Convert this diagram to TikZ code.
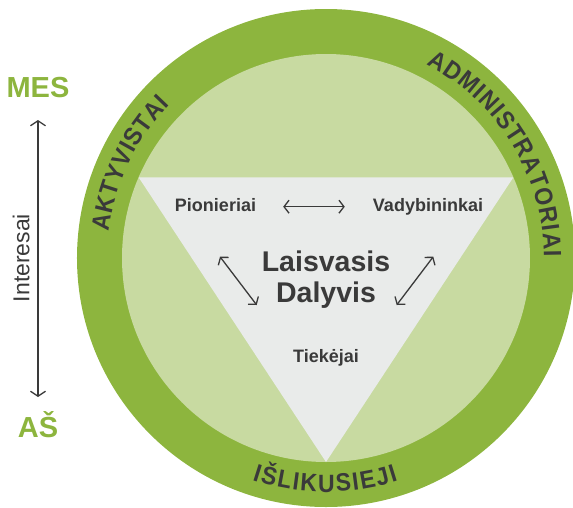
\documentclass[tikz,border=0pt]{standalone}
\usepackage{fontspec}
\setmainfont{Liberation Sans}
\newfontfamily\ringfam{Liberation Sans}[FakeStretch=0.92]
\usepackage{tikz}
\usetikzlibrary{arrows.meta}
\usetikzlibrary{decorations.text}

\definecolor{ringgreen}{RGB}{141,181,62}
\definecolor{innergreen}{RGB}{200,218,161}
\definecolor{trigray}{RGB}{233,235,234}
\definecolor{ink}{RGB}{58,58,58}

\newcommand{\ringfont}{\ringfam\fontsize{25}{25}\selectfont\bfseries}
\newcommand{\ringLabel}[4]{
   	\path[decorate, decoration={text along path, text align=fit to path, text color=ink, text={|\ringfont|#4}}] (#2:#1) arc[start angle=#2, end angle=#3, radius=#1];
}

\begin{document}
\begin{tikzpicture}[x=1pt, y=1pt,
	arr/.style={{Straight Barb[length=5pt,width=13pt]}-{Straight Barb[length=5pt,width=13pt]}, line width=1.3pt, ink},
	lbl/.style={inner sep=0pt, anchor=base, text=ink}]
%%%%%%%%%%%%%%%%%%

	\useasboundingbox (-326,-249) rectangle (247,258);

%Circles and triangle
	\fill[ringgreen] (0,0) circle (249);
	\fill[innergreen] (0,0) circle (204);
	\fill[trigray] (156.7:204) -- (23.3:204) -- (270:204) -- cycle;

% Ring texts
\ringLabel{219}{173}{135.5}{AKTYVISTAI}
\ringLabel{218}{62.6}{0.3}{ADMINISTRATORIAI}
\ringLabel{234}{251.6}{288}{IŠLIKUSIEJI}

% Inner texts
	\node[lbl, font=\fontsize{18}{18}\selectfont\bfseries] (pion) at (-110.5,46.3) {Pionieriai};
	\node[lbl, font=\fontsize{18}{18}\selectfont\bfseries] (vady) at (102,46.3) {Vadybininkai};
	\node[lbl, font=\fontsize{28.5}{28.5}\selectfont\bfseries] (laisv) at (0,-13) {Laisvasis};
	\node[lbl, font=\fontsize{28.5}{28.5}\selectfont\bfseries] (dalyv) at ([yshift=-31.7pt]laisv.base) {Dalyvis};
	\node[lbl, font=\fontsize{18}{18}\selectfont\bfseries] (tiek) at (0,-104.3) {Tiekėjai};

	\coordinate (l1) at (-106,1.3);
	\coordinate (l2) at (-69.3,-47);
	\coordinate (r1) at (107.3,1.3);
	\coordinate (r2) at (70.7,-47);
	\draw[arr] ([xshift=27pt,yshift=5pt]pion.base east) -- ([xshift=-28pt,yshift=5pt]vady.base west);
	\draw[arr] (l1) -- (l2);
	\draw[arr] (r1) -- (r2);

% Interest axis
	\node[lbl, text=ringgreen, font=\fontsize{29}{29}\selectfont\bfseries] (mes) at (-288,161) {MES};
	\node[lbl, text=ringgreen, font=\fontsize{29}{29}\selectfont\bfseries] (as) at (-288,-179) {AŠ};
	\node[lbl, rotate=90, font=\fontsize{23}{23}\selectfont] (interesai) at (-296.7,0) {Interesai};
	\draw[arr, {Straight Barb[length=5pt,width=15pt]}-{Straight Barb[length=5pt,width=15pt]}] ([yshift=-23pt]mes.base) -- ([yshift=40pt]as.base);

\end{tikzpicture}
\end{document}
